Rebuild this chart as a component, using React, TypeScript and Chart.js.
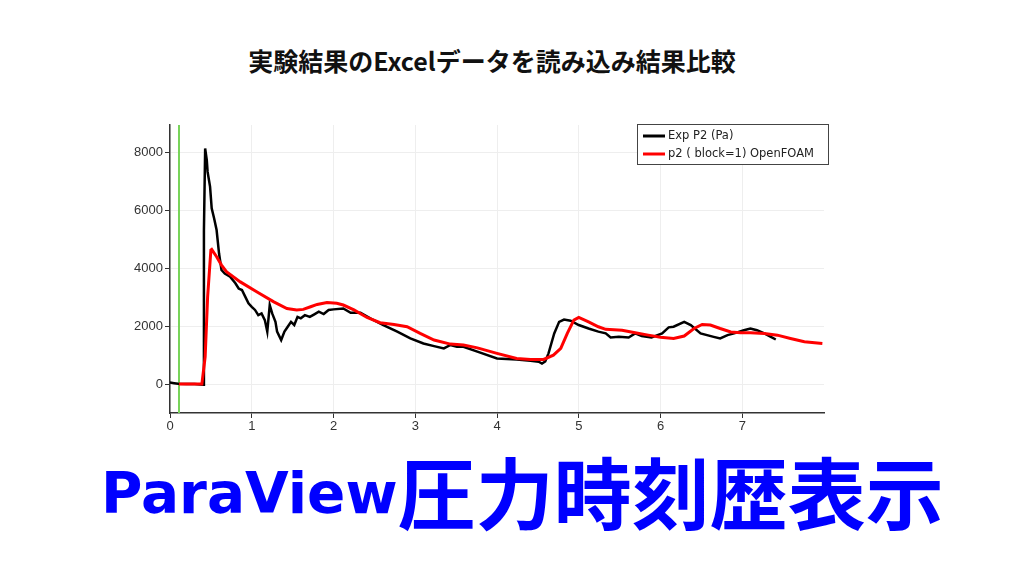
import React, { useEffect, useRef } from "react";
import { Chart, registerables } from "chart.js";

Chart.register(...registerables);

const chartTitle = "実験結果のExcelデータを読み込み結果比較";
const bannerLatin = "ParaView";
const bannerCJK = "圧力時刻歴表示";

const expLabel = "Exp P2 (Pa)";
const simLabel = "p2 ( block=1) OpenFOAM";

const expTime = [
  0.0, 0.05, 0.1, 0.2, 0.3, 0.41, 0.415, 0.43, 0.45, 0.46, 0.49, 0.51, 0.54, 0.57, 0.6, 0.63, 0.67, 0.735,
  0.8, 0.84, 0.88, 0.92, 0.96, 1.0, 1.04, 1.08, 1.12, 1.16, 1.19, 1.22, 1.25, 1.29, 1.31, 1.36, 1.4, 1.44,
  1.48, 1.52, 1.56, 1.6, 1.65, 1.71, 1.76, 1.82, 1.88, 1.94, 2.0, 2.12, 2.21, 2.33, 2.45, 2.61, 2.78, 2.94,
  3.1, 3.23, 3.35, 3.43, 3.51, 3.59, 3.76, 4.0, 4.24, 4.41, 4.51, 4.55, 4.59, 4.63, 4.7, 4.76, 4.82, 4.9,
  5.0, 5.12, 5.24, 5.33, 5.39, 5.49, 5.61, 5.69, 5.77, 5.89, 6.02, 6.1, 6.16, 6.29, 6.37, 6.49, 6.65, 6.73,
  6.82, 6.9, 7.02, 7.1, 7.18, 7.27, 7.35, 7.41,
];
const expP2 = [
  50, 30, 10, 0, 0, -20, 5300, 8140, 7740, 7330, 6820, 6070, 5720, 5320, 4510, 3940, 3820, 3710,
  3480, 3300, 3250, 3020, 2790, 2670, 2560, 2380, 2440, 2210, 1810, 2730, 2440, 2150, 1810, 1520, 1810, 1980,
  2150, 2040, 2320, 2270, 2380, 2320, 2400, 2500, 2420, 2560, 2580, 2610, 2460, 2460, 2270, 2040, 1810, 1580,
  1400, 1310, 1230, 1350, 1290, 1290, 1120, 885, 850, 805, 770, 710, 780, 1060, 1750, 2150, 2230, 2190,
  2040, 1920, 1810, 1750, 1610, 1630, 1610, 1750, 1660, 1610, 1750, 1960, 1980, 2150, 2040, 1750, 1630, 1575,
  1690, 1750, 1860, 1920, 1860, 1750, 1630, 1540,
];

const simTime = [
  0.11, 0.39, 0.43, 0.46, 0.5, 0.51, 0.57, 0.63, 0.69, 0.86, 1.06, 1.27, 1.43, 1.55, 1.63, 1.72, 1.8, 1.92,
  2.04, 2.12, 2.25, 2.41, 2.57, 2.74, 2.9, 3.06, 3.23, 3.43, 3.59, 3.76, 4.0, 4.24, 4.41, 4.57, 4.69, 4.78,
  4.86, 4.94, 5.0, 5.12, 5.24, 5.33, 5.53, 5.69, 5.85, 6.0, 6.16, 6.29, 6.41, 6.51, 6.61, 6.73, 6.86, 6.98,
  7.1, 7.27, 7.43, 7.59, 7.76, 7.98,
];
const simP2 = [
  0, 0, 940, 3000, 4630, 4650, 4400, 4110, 3880, 3530, 3190, 2840, 2610, 2560, 2580, 2670, 2750, 2820,
  2790, 2730, 2560, 2300, 2120, 2060, 1980, 1750, 1520, 1380, 1350, 1250, 1060, 885, 850, 850, 1000, 1230,
  1750, 2210, 2300, 2150, 1980, 1890, 1860, 1770, 1690, 1620, 1575, 1660, 1920, 2060, 2040, 1920, 1800, 1770,
  1770, 1750, 1690, 1575, 1460, 1400,
];

const markerTime = [0.11, 0.11];
const markerValue = [-1000, 8950];

const xTicks = [0, 1, 2, 3, 4, 5, 6, 7];
const yTicks = [0, 2000, 4000, 6000, 8000];
const xMin = 0;
const xMax = 8.0;
const yMin = -1000;
const yMax = 8950;

const legendPlugin = {
  id: "boxLegend",
  afterDraw(chart: any) {
    const ctx = chart.ctx;
    const items = [expLabel, simLabel]
      .map((l) => chart.data.datasets.find((d: any) => d.label === l))
      .filter(Boolean);
    const x0 = 637.5, y0 = 124.5, w = 191, h = 40;
    ctx.save();
    ctx.fillStyle = "#ffffff";
    ctx.fillRect(x0, y0, w, h);
    ctx.strokeStyle = "#444444";
    ctx.lineWidth = 1;
    ctx.strokeRect(x0, y0, w, h);
    ctx.font = "11.5px 'DejaVu Sans'";
    ctx.textBaseline = "middle";
    ctx.textAlign = "left";
    items.forEach((d: any, i: number) => {
      const yy = y0 + 11.5 + i * 18;
      ctx.strokeStyle = d.borderColor;
      ctx.lineWidth = 3;
      ctx.beginPath();
      ctx.moveTo(643, yy);
      ctx.lineTo(665, yy);
      ctx.stroke();
      ctx.fillStyle = "#222222";
      ctx.fillText(d.label, 668, yy);
    });
    ctx.restore();
  },
};

export default function App() {
  const ref = useRef<HTMLCanvasElement | null>(null);

  useEffect(() => {
    if (!ref.current) return;
    const chart = new Chart(ref.current, {
      type: "line",
      data: {
        datasets: [
          {
            label: simLabel,
            data: simTime.map((t, i) => ({ x: t, y: simP2[i] })),
            borderColor: "#ff0000",
            borderWidth: 3,
            pointRadius: 0,
            tension: 0,
            order: 0,
          } as any,
          {
            label: expLabel,
            data: expTime.map((t, i) => ({ x: t, y: expP2[i] })),
            borderColor: "#000000",
            borderWidth: 2.5,
            pointRadius: 0,
            tension: 0,
            order: 1,
          } as any,
          {
            label: "marker",
            data: markerTime.map((t, i) => ({ x: t, y: markerValue[i] })),
            borderColor: "#78d45a",
            borderWidth: 2,
            pointRadius: 0,
            order: 2,
          } as any,
        ],
      },
      options: {
        animation: false,
        responsive: false,
        maintainAspectRatio: false,
        layout: { padding: { left: 110, right: 200, top: 125, bottom: 133 } },
        plugins: {
          legend: { display: false },
          tooltip: { enabled: false },
          title: { display: false },
        },
        scales: {
          x: {
            type: "linear",
            min: xMin,
            max: xMax,
            afterBuildTicks: (s: any) => {
              s.ticks = xTicks.map((v) => ({ value: v }));
            },
            afterFit: (s: any) => {
              s.height = 30;
            },
            grid: {
              color: "#eeeeee",
              lineWidth: 1,
              tickColor: "#333333",
              tickLength: 5,
              drawTicks: true,
            },
            border: { color: "#333333", width: 1.5 },
            ticks: {
              color: "#333333",
              font: { family: "'Liberation Sans', Arial, sans-serif", size: 13 },
              padding: 1,
              maxRotation: 0,
              autoSkip: false,
            },
          },
          y: {
            type: "linear",
            min: yMin,
            max: yMax,
            afterBuildTicks: (s: any) => {
              s.ticks = yTicks.map((v) => ({ value: v }));
            },
            afterFit: (s: any) => {
              s.width = 60;
            },
            grid: {
              color: "#eeeeee",
              lineWidth: 1,
              tickColor: "#333333",
              tickLength: 5,
            },
            border: { color: "#333333", width: 1.5 },
            ticks: {
              color: "#333333",
              font: { family: "'Liberation Sans', Arial, sans-serif", size: 13 },
              padding: 2,
              autoSkip: false,
              callback: (v: any) => String(v),
            },
          },
        },
      },
      plugins: [legendPlugin],
    });
    return () => chart.destroy();
  }, []);

  return (
    <div
      style={{
        position: "fixed",
        left: 0,
        top: 0,
        width: 1024,
        height: 576,
        background: "#ffffff",
        overflow: "hidden",
      }}
    >
      <div
        style={{
          position: "absolute",
          left: 0,
          top: 45,
          width: 984,
          textAlign: "center",
          fontFamily: "'Noto Sans CJK JP', sans-serif",
          fontWeight: 700,
          fontSize: 25,
          lineHeight: "30px",
          color: "#111111",
        }}
      >
        {chartTitle}
      </div>
      <canvas
        ref={ref}
        width={1024}
        height={576}
        style={{ position: "absolute", left: 0, top: 0, width: 1024, height: 576 }}
      />
      <div
        style={{
          position: "absolute",
          left: 101,
          top: 434,
          whiteSpace: "nowrap",
          color: "#0000ff",
          display: "flex",
          alignItems: "baseline",
        }}
      >
        <span style={{ fontFamily: "'DejaVu Sans', sans-serif", fontWeight: 700, fontSize: 56.5, lineHeight: "90px" }}>
          {bannerLatin}
        </span>
        <span
          style={{
            fontFamily: "'Noto Sans CJK JP', sans-serif",
            fontWeight: 700,
            fontSize: 78,
            lineHeight: "90px",
            position: "relative",
            top: 11,
          }}
        >
          {bannerCJK}
        </span>
      </div>
    </div>
  );
}
